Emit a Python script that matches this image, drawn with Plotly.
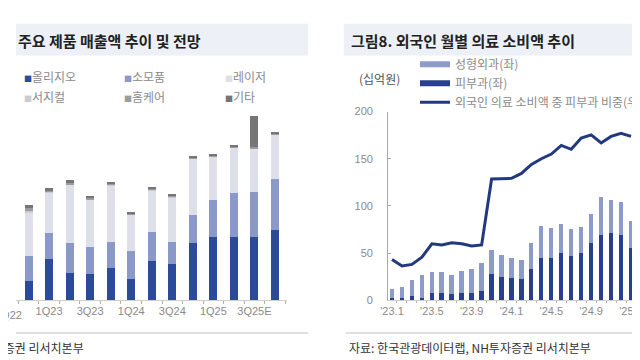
import plotly.graph_objects as go

W, H = 640, 360

# ---------------- Left chart data (분기별 제품 매출, 억원) ----------------
quarters = ["4Q22", "1Q23", "2Q23", "3Q23", "4Q23", "1Q24", "2Q24",
            "3Q24", "4Q24", "1Q25", "2Q25", "3Q25E", "4Q25E"]
oligio = [51, 107, 71, 68, 83, 56, 103, 94, 148, 163, 163, 163, 181]
consumables = [64, 68, 78, 69, 67, 71, 75, 57, 73, 98, 114, 117, 134]
laser = [110, 104, 150, 124, 148, 95, 107, 116, 146, 111, 118, 113, 113]
surgical = [6, 2, 2, 1, 1, 1, 1, 1, 1, 1, 1, 1, 1]
homecare = [8, 4, 5, 3, 3, 3, 3, 3, 3, 3, 3, 3, 3]
other = [7, 5, 5, 4, 3, 4, 4, 3, 3, 4, 3, 81, 3]
left_names = ["올리지오", "소모품", "레이저", "서지컬", "홈케어", "기타"]
left_colors = ["#2C4A9A", "#8B99C9", "#DDE0E9", "#C9CBD0", "#9C9C9C", "#767676"]
left_tick_labels = ["1Q23", "3Q23", "1Q24", "3Q24", "1Q25", "3Q25E"]

# ---------------- Right chart data (십억원) ----------------
months = ["'23.1", "'23.2", "'23.3", "'23.4", "'23.5", "'23.6", "'23.7", "'23.8",
          "'23.9", "'23.10", "'23.11", "'23.12", "'24.1", "'24.2", "'24.3", "'24.4",
          "'24.5", "'24.6", "'24.7", "'24.8", "'24.9", "'24.10", "'24.11", "'24.12", "'25.1"]
dermatology = [3, 2.5, 4.5, 3, 8, 8, 7, 8, 8, 10, 27.7, 25, 24, 22.9, 33.5, 44.8,
               45.5, 50.6, 47.2, 50.6, 60.9, 69.7, 71.1, 69.1, 55.7]
plastic = [9.3, 11.9, 17, 23.7, 22, 22, 20, 23, 25.5, 30.3, 26, 23.6, 21.5, 20.2, 28,
           33.8, 31.8, 30.8, 28.7, 27.3, 30.7, 40.4, 35.9, 35.2, 28.4]
derm_share = [43.1, 36.2, 37.9, 45.5, 59.8, 58.5, 60.9, 59.8, 57.4, 58.5, 128.5, 129.2,
              129.2, 134.4, 144, 150, 155, 164.1, 160, 172, 175.4, 166.8, 173.7, 177.1, 173.7]
right_tick_labels = ["'23.1", "'23.5", "'23.9", "'24.1", "'24.5", "'24.9", "'25.1"]
right_names = ["성형외과(좌)", "피부과(좌)", "외국인 의료 소비액 중 피부과 비중(우)"]
plastic_color = "#8C9BC8"
derm_color = "#273F8E"
line_color = "#22397F"


def px_x(p):
    return p / W


def px_y(p):
    return 1 - p / H


FONT_KR = "Noto Sans CJK KR"
FONT_TICK = "Liberation Sans"

fig = go.Figure()

# Left stacked bars
xq = list(range(len(quarters)))
for name, vals, col in zip(left_names, [oligio, consumables, laser, surgical, homecare, other], left_colors):
    fig.add_trace(go.Bar(x=xq, y=vals, name=name, marker=dict(color=col, line=dict(width=0)),
                         width=0.39, showlegend=False, xaxis="x", yaxis="y",
                         hovertext=quarters))

# Right stacked bars
xm = list(range(len(months)))
fig.add_trace(go.Bar(x=xm, y=dermatology, name=right_names[1], marker=dict(color=derm_color, line=dict(width=0)),
                     width=0.44, showlegend=False, xaxis="x2", yaxis="y2", hovertext=months))
fig.add_trace(go.Bar(x=xm, y=plastic, name=right_names[0], marker=dict(color=plastic_color, line=dict(width=0)),
                     width=0.44, showlegend=False, xaxis="x2", yaxis="y2", hovertext=months))
# legend proxies for the bars
fig.add_trace(go.Scatter(x=[None], y=[None], mode="lines", name=right_names[0],
                         line=dict(color=plastic_color, width=6), xaxis="x2", yaxis="y2"))
fig.add_trace(go.Scatter(x=[None], y=[None], mode="lines", name=right_names[1],
                         line=dict(color=derm_color, width=6), xaxis="x2", yaxis="y2"))
# line on right (secondary) axis
fig.add_trace(go.Scatter(x=xm, y=derm_share, mode="lines", name=right_names[2],
                         line=dict(color=line_color, width=3), xaxis="x2", yaxis="y3",
                         hovertext=months))

tickfont = dict(family=FONT_TICK, size=11, color="#8A8A8A")

fig.update_layout(
    width=W, height=H, margin=dict(l=0, r=0, t=0, b=0),
    paper_bgcolor="white", plot_bgcolor="rgba(0,0,0,0)",
    barmode="stack", bargap=0,
    xaxis=dict(domain=[0, px_x(281)], range=[-0.61, 12.58],
               tickmode="array", tickvals=[1, 3, 5, 7, 9, 11], ticktext=left_tick_labels,
               ticks="", showline=True, linecolor="#CFCFCF", linewidth=1,
               showgrid=False, zeroline=False, tickfont=tickfont, ticklabelstandoff=1,
               minor=dict(tickmode="linear", tick0=0.5, dtick=1, ticks="outside",
                          ticklen=3, tickcolor="#B9AE9F", showgrid=False)),
    yaxis=dict(domain=[px_y(296), px_y(100)], range=[0, 490], visible=False),
    xaxis2=dict(domain=[px_x(386), 1], range=[-0.39, 24.2], anchor="y2",
                tickmode="array", tickvals=[0, 4, 8, 12, 16, 20, 24], ticktext=right_tick_labels,
                ticks="", showline=True, linecolor="#CFCFCF", linewidth=1,
                showgrid=False, zeroline=False, tickfont=tickfont, ticklabelstandoff=1,
                minor=dict(tickmode="linear", tick0=0.5, dtick=1, ticks="outside",
                           ticklen=2, tickcolor="#B9AE9F", showgrid=False)),
    yaxis2=dict(domain=[px_y(296), px_y(101)], range=[0, 200], anchor="x2",
                dtick=50, tick0=0, showline=True, linecolor="#A8A8A8", linewidth=1,
                ticks="inside", ticklen=3, tickcolor="#A8A8A8",
                showgrid=False, zeroline=False, tickfont=tickfont, ticklabelstandoff=12),
    yaxis3=dict(domain=[px_y(296), px_y(101)], range=[0, 200], overlaying="y2",
                side="right", anchor="x2", visible=False),
    legend=dict(x=px_x(414), y=px_y(37), xanchor="left", yanchor="top",
                bgcolor="rgba(0,0,0,0)", font=dict(family=FONT_KR, size=12, color="#8A8A8A"),
                tracegroupgap=0, itemwidth=30, traceorder="normal"),
    showlegend=True,
)

shapes = [
    dict(type="rect", xref="paper", yref="paper", x0=0, x1=px_x(303), y0=px_y(43), y1=px_y(10),
         fillcolor="#EDF0F6", line=dict(width=0), layer="below"),
    dict(type="rect", xref="paper", yref="paper", x0=px_x(340), x1=1, y0=px_y(43), y1=px_y(10),
         fillcolor="#EDF0F6", line=dict(width=0), layer="below"),
    dict(type="line", xref="paper", yref="paper", x0=0, x1=px_x(303), y0=px_y(330), y1=px_y(330),
         line=dict(color="#D5D5D5", width=1.5)),
    dict(type="line", xref="paper", yref="paper", x0=px_x(342), x1=1, y0=px_y(330), y1=px_y(330),
         line=dict(color="#D5D5D5", width=1.5)),
]
fig.update_layout(shapes=shapes)

ann = []
ann.append(dict(text="<b>주요 제품 매출액 추이 및 전망</b>", x=px_x(0), y=px_y(27),
                xanchor="left", yanchor="middle", showarrow=False, xref="paper", yref="paper",
                font=dict(family=FONT_KR, size=15, color="#222222")))
ann.append(dict(text="<b>그림8. 외국인 월별 의료 소비액 추이</b>", x=px_x(345), y=px_y(27),
                xanchor="left", yanchor="middle", showarrow=False, xref="paper", yref="paper",
                font=dict(family=FONT_KR, size=15, color="#222222")))
# left legend (2 rows x 3 cols)
leg_x = [6, 110, 215]
leg_y = [65, 85]
for i, (name, col) in enumerate(zip(left_names, left_colors)):
    r, c = divmod(i, 3)
    ann.append(dict(text=f"<span style='color:{col};font-size:8px'>■</span>{name}",
                    x=px_x(leg_x[c]), y=px_y(leg_y[r]), xanchor="left", yanchor="middle",
                    showarrow=False, xref="paper", yref="paper",
                    font=dict(family=FONT_KR, size=12, color="#8A8A8A")))
# partially visible tick label at the left edge
ann.append(dict(text="3Q22", x=px_x(-8), y=px_y(311), xanchor="center", yanchor="middle",
                showarrow=False, xref="paper", yref="paper", font=tickfont))
ann.append(dict(text="(십억원)", x=px_x(377), y=px_y(67), xanchor="center", yanchor="middle",
                showarrow=False, xref="paper", yref="paper",
                font=dict(family=FONT_KR, size=12, color="#555555")))
ann.append(dict(text="자료: 원텍, NH투자증권 리서치본부", x=px_x(73), y=px_y(345),
                xanchor="right", yanchor="middle", showarrow=False, xref="paper", yref="paper",
                font=dict(family=FONT_KR, size=12, color="#333333")))
ann.append(dict(text="자료: 한국관광데이터랩, NH투자증권 리서치본부", x=px_x(343), y=px_y(345),
                xanchor="left", yanchor="middle", showarrow=False, xref="paper", yref="paper",
                font=dict(family=FONT_KR, size=12, color="#333333")))
fig.update_layout(annotations=ann)

fig.write_html("out.html")
